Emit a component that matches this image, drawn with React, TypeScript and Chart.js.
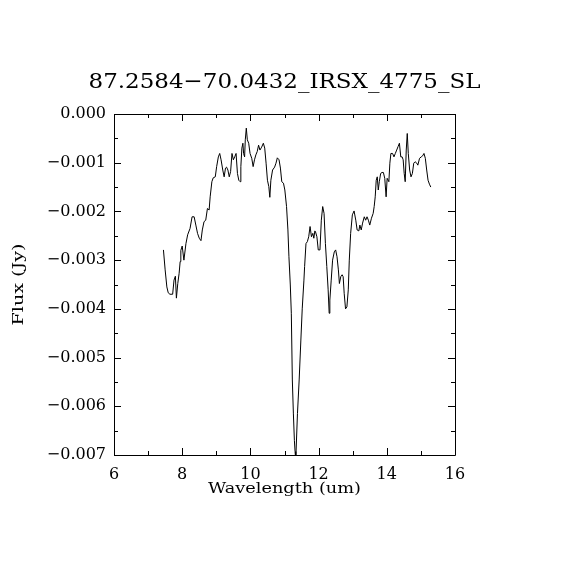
import React, { useEffect, useRef } from "react";
import { Chart, registerables } from "chart.js";

Chart.register(...registerables);

const TITLE = "87.2584\u221270.0432_IRSX_4775_SL";
const X_LABEL = "Wavelength (um)";
const Y_LABEL = "Flux (Jy)";

const X_MIN = 6;
const X_MAX = 16;
const X_STEP = 2;
const X_MINOR = 1;
const Y_MIN = -0.007;
const Y_MAX = 0;
const Y_STEP = 0.001;
const Y_MINOR = 0.0005;

const wavelength: number[] = [
  7.45, 7.5, 7.55, 7.59, 7.64, 7.72, 7.76, 7.8, 7.83, 7.87, 7.91, 7.94, 7.96, 8.0, 8.05, 8.11, 8.16, 8.23, 8.29, 8.35,
  8.4, 8.45, 8.5, 8.55, 8.59, 8.64, 8.69, 8.74, 8.79, 8.82, 8.87, 8.91, 8.97, 9.01, 9.06, 9.1, 9.14, 9.19, 9.23, 9.27,
  9.3, 9.34, 9.38, 9.42, 9.46, 9.5, 9.54, 9.58, 9.62, 9.66, 9.7, 9.72, 9.75, 9.78, 9.8, 9.83, 9.85, 9.88, 9.91, 9.95,
  9.99, 10.04, 10.08, 10.12, 10.16, 10.2, 10.24, 10.28, 10.33, 10.38, 10.42, 10.46, 10.5, 10.54, 10.57, 10.6, 10.65,
  10.71, 10.75, 10.79, 10.84, 10.88, 10.92, 10.97, 11.01, 11.06, 11.1, 11.13, 11.17, 11.2, 11.23, 11.26, 11.29, 11.31,
  11.33, 11.38, 11.43, 11.48, 11.52, 11.57, 11.59, 11.63, 11.67, 11.71, 11.75, 11.79, 11.83, 11.86, 11.89, 11.91, 11.95,
  11.99, 12.04, 12.08, 12.12, 12.16, 12.2, 12.24, 12.28, 12.31, 12.33, 12.37, 12.41, 12.46, 12.5, 12.54, 12.58, 12.61,
  12.65, 12.69, 12.72, 12.75, 12.79, 12.83, 12.87, 12.9, 12.94, 12.99, 13.04, 13.09, 13.13, 13.18, 13.21, 13.25, 13.29,
  13.34, 13.38, 13.42, 13.46, 13.5, 13.55, 13.6, 13.63, 13.66, 13.69, 13.72, 13.75, 13.78, 13.82, 13.86, 13.9, 13.94,
  13.98, 14.01, 14.06, 14.09, 14.12, 14.17, 14.21, 14.25, 14.29, 14.33, 14.37, 14.41, 14.45, 14.48, 14.51, 14.54, 14.57,
  14.6, 14.63, 14.67, 14.71, 14.75, 14.79, 14.83, 14.88, 14.91, 14.96, 15.01, 15.05, 15.09, 15.13, 15.17, 15.21, 15.25,
  15.29,
];

const flux: number[] = [
  -0.00279, -0.0032, -0.00355, -0.00367, -0.0037, -0.0037, -0.00341, -0.00333, -0.00378, -0.00348, -0.00327, -0.00303,
  -0.0028, -0.00271, -0.003, -0.00266, -0.00248, -0.00235, -0.00211, -0.00211, -0.00228, -0.00245, -0.00255, -0.0026,
  -0.00238, -0.00221, -0.00218, -0.00194, -0.00197, -0.0017, -0.00139, -0.00131, -0.00129, -0.00108, -0.00088, -0.00081,
  -0.00094, -0.00115, -0.00129, -0.00111, -0.00109, -0.00115, -0.00129, -0.00118, -0.00081, -0.00094, -0.00088, -0.00081,
  -0.00122, -0.00136, -0.00139, -0.00108, -0.0007, -0.0006, -0.00081, -0.00088, -0.00053, -0.00029, -0.00053, -0.0006,
  -0.00081, -0.00091, -0.00108, -0.00094, -0.00084, -0.00077, -0.00064, -0.00074, -0.00068, -0.0006, -0.0007, -0.00101,
  -0.00136, -0.00149, -0.00171, -0.00136, -0.00115, -0.00109, -0.00101, -0.0009, -0.00094, -0.00111, -0.00139, -0.00142,
  -0.00156, -0.0019, -0.00238, -0.00293, -0.00351, -0.00409, -0.00546, -0.00614, -0.0067, -0.00693, -0.0071, -0.00615,
  -0.00546, -0.00464, -0.004, -0.00341, -0.00313, -0.00266, -0.00262, -0.00252, -0.00231, -0.00252, -0.00245, -0.00255,
  -0.0024, -0.00242, -0.00252, -0.00279, -0.00279, -0.00218, -0.0019, -0.00204, -0.00266, -0.00313, -0.00361, -0.00409,
  -0.00382, -0.00341, -0.003, -0.00283, -0.00279, -0.00293, -0.0032, -0.00348, -0.00334, -0.0033, -0.00334, -0.00368,
  -0.004, -0.00396, -0.00361, -0.003, -0.00245, -0.00207, -0.00199, -0.00218, -0.00238, -0.0024, -0.00228, -0.00238,
  -0.00224, -0.00211, -0.00218, -0.00211, -0.00218, -0.00228, -0.00214, -0.00204, -0.0019, -0.0017, -0.00136, -0.00129,
  -0.00156, -0.00139, -0.00122, -0.0012, -0.0012, -0.00132, -0.0017, -0.00132, -0.00139, -0.00101, -0.00081, -0.00081,
  -0.00088, -0.00081, -0.00074, -0.00067, -0.0006, -0.00088, -0.00088, -0.00094, -0.00122, -0.00139, -0.00074, -0.0004,
  -0.00081, -0.00115, -0.00129, -0.00122, -0.00101, -0.00098, -0.00101, -0.00105, -0.00091, -0.00088, -0.00086,
  -0.00081, -0.00091, -0.00115, -0.00136, -0.00144, -0.0015,
];

const SERIF = "'DejaVu Serif', 'Liberation Serif', serif";

const fmtY = (v: number) => {
  const s = Math.abs(v).toFixed(3);
  return v < -1e-9 ? "\u2212" + s : s;
};

function fitText(ctx: CanvasRenderingContext2D, text: string, x: number, y: number, w: number, rot: number) {
  const tw = ctx.measureText(text).width;
  ctx.save();
  ctx.translate(x, y);
  ctx.rotate(rot);
  ctx.scale(w / tw, 1);
  ctx.fillText(text, 0, 0);
  ctx.restore();
}

const framePlugin = {
  id: "idlFrame",
  beforeDraw(chart: any) {
    const { ctx, width, height } = chart;
    ctx.save();
    ctx.fillStyle = "#ffffff";
    ctx.fillRect(0, 0, width, height);
    ctx.restore();
  },
  afterDraw(chart: any) {
    const { ctx, chartArea } = chart;
    const { left, right, top, bottom } = chartArea;
    const xs = chart.scales.x;
    const ys = chart.scales.y;
    ctx.save();
    ctx.strokeStyle = "#000";
    ctx.lineWidth = 1;
    ctx.beginPath();
    ctx.rect(Math.round(left) + 0.5, Math.round(top) + 0.5, Math.round(right - left), Math.round(bottom - top));
    ctx.stroke();
    const major = 7;
    const minor = 4;
    ctx.beginPath();
    for (let v = X_MIN; v <= X_MAX + 1e-9; v += X_MINOR) {
      const isMajor = Math.abs(((v - X_MIN) / X_STEP) - Math.round((v - X_MIN) / X_STEP)) < 1e-6;
      const len = isMajor ? major : minor;
      const px = Math.round(xs.getPixelForValue(v)) + 0.5;
      ctx.moveTo(px, bottom);
      ctx.lineTo(px, bottom - len);
      ctx.moveTo(px, top);
      ctx.lineTo(px, top + len);
    }
    for (let i = 0; i <= Math.round((Y_MAX - Y_MIN) / Y_MINOR); i++) {
      const v = Y_MIN + i * Y_MINOR;
      const isMajor = i % Math.round(Y_STEP / Y_MINOR) === 0;
      const len = isMajor ? major : minor;
      const py = Math.round(ys.getPixelForValue(v)) + 0.5;
      ctx.moveTo(left, py);
      ctx.lineTo(left + len, py);
      ctx.moveTo(right, py);
      ctx.lineTo(right - len, py);
    }
    ctx.stroke();

    ctx.fillStyle = "#000";
    ctx.textAlign = "center";
    ctx.textBaseline = "alphabetic";
    ctx.font = `21px ${SERIF}`;
    fitText(ctx, TITLE, (left + right) / 2, 88, 392, 0);
    ctx.font = `15px ${SERIF}`;
    fitText(ctx, X_LABEL, (left + right) / 2, 493, 153, 0);
    ctx.font = `15px ${SERIF}`;
    fitText(ctx, Y_LABEL, 23, (top + bottom) / 2, 82, -Math.PI / 2);
    ctx.restore();
  },
};

export default function App() {
  const ref = useRef<HTMLCanvasElement | null>(null);
  useEffect(() => {
    if (!ref.current) return;
    const points = wavelength.map((w, i) => ({ x: w, y: flux[i] }));
    const chart = new Chart(ref.current, {
      type: "line",
      data: {
        datasets: [
          {
            data: points,
            borderColor: "#000",
            borderWidth: 1,
            pointRadius: 0,
            tension: 0,
            fill: false,
          },
        ],
      },
      options: {
        animation: false,
        responsive: false,
        maintainAspectRatio: false,
        layout: { padding: { top: 114, right: 115, left: 0, bottom: 0 } },
        plugins: {
          legend: { display: false },
          title: { display: false },
          tooltip: { enabled: false },
        },
        scales: {
          x: {
            type: "linear",
            min: X_MIN,
            max: X_MAX,
            grid: { display: false },
            border: { display: false },
            ticks: {
              stepSize: X_STEP,
              padding: 2,
              color: "#000",
              font: { family: SERIF, size: 16 },
              maxRotation: 0,
              autoSkip: false,
            },
            afterFit: (s: any) => {
              s.height = 115;
            },
          },
          y: {
            type: "linear",
            min: Y_MIN,
            max: Y_MAX,
            grid: { display: false },
            border: { display: false },
            ticks: {
              stepSize: Y_STEP,
              padding: 0,
              color: "#000",
              font: { family: SERIF, size: 16 },
              callback: (v: any) => fmtY(Number(v)),
              autoSkip: false,
            },
            afterFit: (s: any) => {
              s.width = 114;
            },
          },
        },
      },
      plugins: [framePlugin],
    });
    return () => chart.destroy();
  }, []);
  return (
    <div style={{ position: "fixed", left: 0, top: 0, width: 570, height: 570, background: "#fff" }}>
      <canvas ref={ref} width={570} height={570} />
    </div>
  );
}
